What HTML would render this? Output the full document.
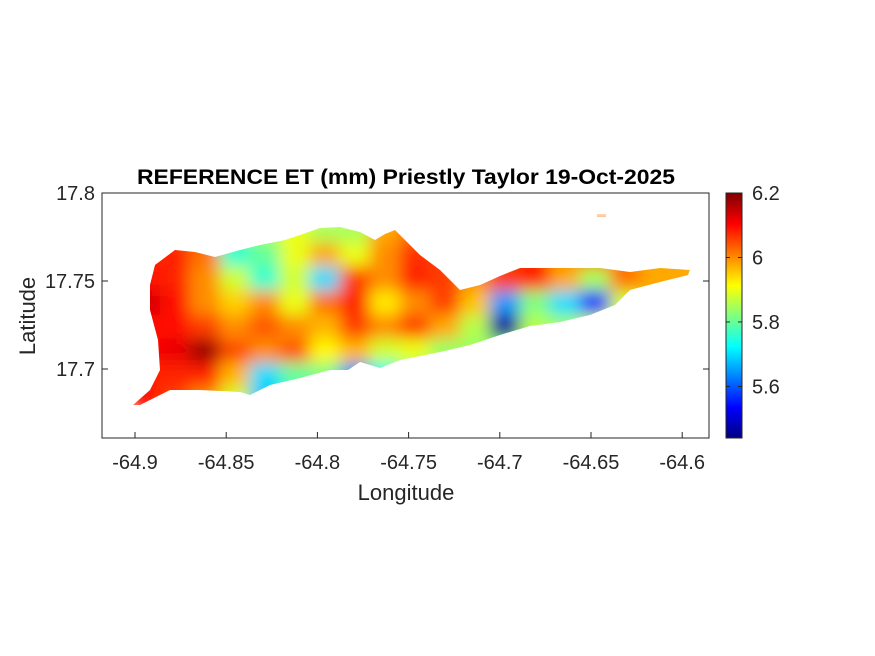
<!DOCTYPE html>
<html><head><meta charset="utf-8"><style>
html,body{margin:0;padding:0;background:#fff;}
svg{display:block;font-family:"Liberation Sans",Arial,sans-serif;}
</style></head><body>
<svg id="chart" width="875" height="656" viewBox="0 0 875 656">
<defs>
<filter id="blur" x="-5%" y="-5%" width="110%" height="110%"><feGaussianBlur stdDeviation="8" edgeMode="duplicate"/></filter>
<clipPath id="island"><path id="islandPath" d="M133,405 L150,390 L160,370 L158,340 L150,310 L150,285 L155,265 L175,250 L195,252 L215,257 L240,250 L260,245 L285,240 L300,235 L320,228 L340,227 L360,232 L375,240 L385,234 L395,230 L410,245 L420,255 L440,270 L460,290 L480,285 L500,276 L520,268 L560,268 L600,268 L630,272 L660,268 L690,270 L688,275 L660,282 L630,290 L615,305 L590,315 L560,322 L530,326 L500,335 L470,345 L440,352 L400,360 L380,368 L360,362 L348,370 L330,370 L300,378 L270,385 L250,395 L240,392 L200,390 L170,390 L140,405 Z M597,214 L606,214 L606,217 L597,217 Z"/></clipPath>
</defs>
<rect x="102" y="193" width="607" height="245" fill="#fff" stroke="#262626" stroke-width="1"/>
<g clip-path="url(#island)"><g id="cells" filter="url(#blur)"></g></g>
<g id="axes"></g>
<text x="406" y="184" text-anchor="middle" font-size="21" font-weight="bold" fill="#000" textLength="538" lengthAdjust="spacingAndGlyphs">REFERENCE ET (mm) Priestly Taylor 19-Oct-2025</text>
<text x="406" y="500" text-anchor="middle" font-size="22" fill="#262626">Longitude</text>
<text x="0" y="0" transform="translate(35,316) rotate(-90)" text-anchor="middle" font-size="22" fill="#262626">Latitude</text>
<g id="cbar"></g>
</svg>
<script>
const xTicks=[-64.9,-64.85,-64.8,-64.75,-64.7,-64.65,-64.6];
const yTicks=[17.8,17.75,17.7];
const cbTicks=[6.2,6,5.8,5.6];
const cMin=5.44, cMax=6.2;
const lonStart=-64.8945, lonStep=0.01645, latStart=17.7784, latStep=0.01364;
const etGrid=[
[6.06,6.06,6.02,5.8,5.85,5.9,5.85,5.85,5.98,6.02,6.02,6.02,6.02,6.02,6.02,6.02,6.02,5.98,5.98],
[6.08,6.08,6.02,5.76,5.8,5.9,5.98,5.9,6.0,6.07,6.06,6.04,6.06,6.08,6.0,6.06,6.02,5.98,5.98],
[6.1,6.08,6.0,5.88,5.76,5.88,5.7,6.06,6.0,6.08,6.06,6.0,6.06,6.08,5.98,5.85,6.02,5.98,5.98],
[6.14,6.1,6.0,5.95,6.0,5.9,6.02,6.08,5.93,6.0,6.06,5.96,5.65,5.82,5.7,5.56,5.88,5.98,5.98],
[6.1,6.1,6.06,6.0,6.04,6.0,5.97,6.06,6.0,6.06,5.98,5.86,5.46,5.86,5.84,5.88,5.93,5.98,5.98],
[6.1,6.12,6.18,6.05,6.0,6.04,5.92,5.97,5.88,5.9,5.84,5.84,5.84,5.88,5.88,5.88,5.93,5.98,5.98],
[6.08,6.08,6.08,5.97,5.7,5.8,5.82,5.65,5.74,5.84,5.84,5.84,5.84,5.88,5.88,5.88,5.93,5.98,5.98],
[6.1,6.06,6.0,5.88,5.68,5.78,5.78,5.78,5.8,5.84,5.84,5.84,5.84,5.88,5.88,5.88,5.93,5.98,5.98]
];
const NS="http://www.w3.org/2000/svg";
function xs(lon){return 135+(lon+64.9)/0.05*91.2;}
function ys(lat){return 193+(17.8-lat)/0.05*88;}
function cs(v){return 438-(v-cMin)/(cMax-cMin)*245;}
function jet(t){t=Math.max(0,Math.min(1,t));
 const f=(a)=>Math.max(0,Math.min(1,1.5-Math.abs(4*t-a)));
 return `rgb(${Math.round(f(3)*255)},${Math.round(f(2)*255)},${Math.round(f(1)*255)})`;}
function mk(tag,attrs,parent){const e=document.createElementNS(NS,tag);for(const k in attrs)e.setAttribute(k,attrs[k]);parent.appendChild(e);return e;}
const cells=document.getElementById('cells');
const cw=xs(lonStart+lonStep)-xs(lonStart), ch=ys(latStart-latStep)-ys(latStart);
etGrid.forEach((row,j)=>row.forEach((v,i)=>{
 const cx=xs(lonStart+i*lonStep), cy=ys(latStart-j*latStep);
 const r=mk('rect',{x:cx-cw/2-0.5,y:cy-ch/2-0.5,width:cw+1,height:ch+1,fill:jet((v-cMin)/(cMax-cMin))},cells);
 
 
}));
const ax=document.getElementById('axes');
xTicks.forEach(t=>{const x=xs(t);
 mk('line',{x1:x,y1:438,x2:x,y2:432,stroke:'#262626'},ax);
 const tx=mk('text',{x:x,y:469,'text-anchor':'middle','font-size':20,fill:'#262626'},ax);tx.textContent=t;
 
 });
yTicks.forEach(t=>{const y=ys(t);
 mk('line',{x1:102,y1:y,x2:108,y2:y,stroke:'#262626'},ax);
 mk('line',{x1:709,y1:y,x2:703,y2:y,stroke:'#262626'},ax);
 const tx=mk('text',{x:95,y:y+7,'text-anchor':'end','font-size':20,fill:'#262626'},ax);tx.textContent=t;
 
 });
const cb=document.getElementById('cbar');


for(let k=0;k<245;k++){mk('rect',{x:726,y:193+k,width:16,height:1.2,fill:jet(1-k/245)},cb);}
mk('rect',{x:726,y:193,width:16,height:245,fill:'none',stroke:'#262626'},cb);
cbTicks.forEach(t=>{const y=cs(t);
 mk('line',{x1:726,y1:y,x2:730,y2:y,stroke:'#262626'},cb);
 mk('line',{x1:742,y1:y,x2:738,y2:y,stroke:'#262626'},cb);
 const tx=mk('text',{x:752,y:y+7,'font-size':20,fill:'#262626'},cb);tx.textContent=t;
 
 });
</script>
</body></html>
